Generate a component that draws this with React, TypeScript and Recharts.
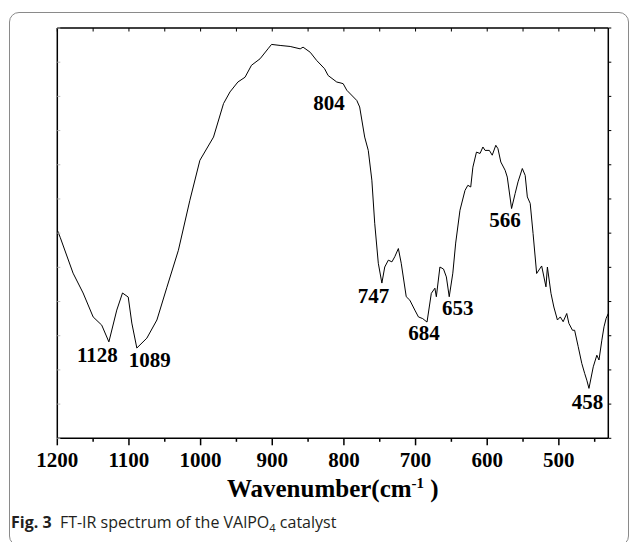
import React from 'react';
import { LineChart, Line, XAxis, YAxis, ReferenceDot } from 'recharts';

// Wavenumber (cm-1) samples
const wavenumbers = [
  1200, 1196, 1178, 1164, 1150, 1138, 1128, 1117, 1109, 1101, 1096, 1089, 1075, 1061, 1047, 1031,
  1015, 1001, 982, 968, 959, 948, 938, 929, 917, 906, 901, 889, 875, 861, 857, 847, 838, 827, 822,
  810, 804, 801, 796, 782, 778, 771, 766, 761, 757, 752, 747, 743, 738, 733, 729, 724, 720, 713,
  708, 701, 696, 690, 684, 678, 673, 671, 666, 661, 657, 653, 648, 644, 638, 631, 627, 623, 620,
  615, 610, 606, 603, 597, 593, 588, 585, 581, 575, 572, 566, 561, 557, 551, 547, 544, 540, 536,
  531, 524, 518, 516, 511, 507, 502, 498, 494, 489, 486, 481, 478, 473, 468, 464, 461, 458, 452,
  447, 444, 440, 437, 434, 431,
];

// Transmittance (arbitrary units)
const transmittance = [
  60.9, 58.8, 48.3, 42.5, 35.5, 33.1, 28.2, 37.5, 42.5, 41.3, 33.7, 26.4, 29.3, 34.6, 44.2, 55.0,
  69.6, 81.3, 88.1, 97.9, 101.3, 104.2, 105.6, 109.1, 111.0, 113.9, 115.2, 114.9, 114.6, 113.9, 114.4, 112.9, 110.5, 108.1, 106.1,
  104.2, 103.9, 103.7, 101.8, 98.8, 96.9, 88.1, 84.2, 75.5, 62.9, 51.2, 45.4, 50.1, 52.1, 51.6, 53.1, 55.5, 51.2, 41.4,
  40.4, 37.5, 35.5, 35.0, 34.0, 42.4, 43.9, 41.4, 50.1, 49.5, 47.2, 41.4, 48.3, 57.1, 66.7, 72.5, 74.0, 73.5, 79.3,
  83.7, 83.3, 85.2, 84.2, 84.2, 82.8, 85.7, 84.7, 80.8, 78.4, 76.4, 67.2, 71.6, 75.0, 78.9, 76.9, 70.6, 68.7, 59.9,
  48.2, 50.4, 44.3, 50.1, 42.4, 38.4, 34.6, 35.5, 34.1, 36.5, 33.6, 31.6, 31.6, 26.8, 21.9, 19.0, 17.0, 14.6, 20.9,
  24.3, 22.9, 28.7, 32.6, 35.1, 36.5,
];

const xTicks = [1200, 1150, 1100, 1050, 1000, 950, 900, 850, 800, 750, 700, 650, 600, 550, 500, 450];
const yTicks = [0, 10, 20, 30, 40, 50, 60, 70, 80, 90, 100, 110, 120];

const peakWavenumbers = [1128, 1089, 804, 747, 684, 653, 566, 458];
const peakLabels = ['1128', '1089', '804', '747', '684', '653', '566', '458'];

// label placement offsets (layout only), pixels relative to the peak point
const peakOffsets: [number, number][] = [
  [-11.5, 13], [13, 11.5], [-12, 19.5], [-8.5, 13], [-3, 10.5], [8.5, 11], [-6.5, 11], [-1.5, 14],
];

const data = wavenumbers.map((x, i) => ({ x, t: transmittance[i] }));

const SERIF = '"Liberation Serif", "Times New Roman", Times, serif';

const BottomTick = (props: any) => {
  const { x, y, payload } = props;
  const v = payload.value as number;
  const major = v % 100 === 0;
  return (
    <g>
      <line x1={x} x2={x} y1={y} y2={y + (major ? 7 : 3.5)} stroke="#000" strokeWidth={1.5} />
      {major && (
        <text
          x={x}
          y={y + 22}
          textAnchor="middle"
          dominantBaseline="central"
          fontFamily={SERIF}
          fontWeight="bold"
          fontSize={21}
          fill="#000"
        >
          {v}
        </text>
      )}
    </g>
  );
};

const TopTick = (props: any) => {
  const { x, y } = props;
  return <line x1={x} x2={x} y1={y} y2={y + 3.5} stroke="#000" strokeWidth={1} />;
};

const LeftTick = (props: any) => {
  const { x, y } = props;
  return <line x1={x} x2={x + 3} y1={y} y2={y} stroke="#b5b5b5" strokeWidth={1} />;
};

const RightTick = (props: any) => {
  const { x, y } = props;
  return <line x1={x} x2={x + 3} y1={y} y2={y} stroke="#000" strokeWidth={1} />;
};

export default function App() {
  return (
    <div
      style={{
        position: 'absolute',
        left: 0,
        top: 0,
        width: 629,
        height: 542,
        background: '#fff',
        overflow: 'hidden',
      }}
    >
      <div
        style={{
          position: 'absolute',
          left: 9,
          top: 12,
          width: 620,
          height: 534,
          border: '1px solid #8a8a8a',
          borderRadius: 10,
          boxSizing: 'border-box',
        }}
      />
      <div style={{ position: 'absolute', left: 0, top: 0 }}>
        <LineChart
          width={629}
          height={542}
          data={data}
          margin={{ top: 27, right: 19.7, bottom: 102.7, left: 56.3 }}
        >
          <XAxis
            xAxisId="bottom"
            dataKey="x"
            type="number"
            domain={[431, 1200]}
            reversed
            allowDataOverflow
            ticks={xTicks}
            interval={0}
            height={1}
            tickSize={0}
            tickMargin={0}
            tick={<BottomTick />}
            tickLine={false}
            axisLine={{ stroke: '#000', strokeWidth: 1.5 }}
          />
          <XAxis
            xAxisId="top"
            orientation="top"
            dataKey="x"
            type="number"
            domain={[431, 1200]}
            reversed
            allowDataOverflow
            ticks={xTicks}
            interval={0}
            height={1}
            tickSize={0}
            tickMargin={0}
            tick={<TopTick />}
            tickLine={false}
            axisLine={{ stroke: '#000', strokeWidth: 1.5 }}
          />
          <YAxis
            yAxisId="left"
            type="number"
            domain={[0, 120]}
            allowDataOverflow
            ticks={yTicks}
            interval={0}
            width={1}
            tickSize={0}
            tickMargin={0}
            tick={<LeftTick />}
            tickLine={false}
            axisLine={{ stroke: '#000', strokeWidth: 1.5 }}
          />
          <YAxis
            yAxisId="right"
            orientation="right"
            type="number"
            domain={[0, 120]}
            allowDataOverflow
            ticks={yTicks}
            interval={0}
            width={1}
            tickSize={0}
            tickMargin={0}
            tick={<RightTick />}
            tickLine={false}
            axisLine={{ stroke: '#000', strokeWidth: 1.5 }}
          />
          <Line
            xAxisId="bottom"
            yAxisId="left"
            type="linear"
            dataKey="t"
            stroke="#000"
            strokeWidth={1}
            dot={false}
            activeDot={false}
            isAnimationActive={false}
          />
          {peakWavenumbers.map((p, i) => {
            const pt = data.find((d) => d.x === p);
            const [dx, dy] = peakOffsets[i];
            return (
              <ReferenceDot
                key={p}
                xAxisId="bottom"
                yAxisId="left"
                x={p}
                y={pt ? pt.t : 0}
                ifOverflow="visible"
                shape={(sp: any) => (
                  <text
                    x={sp.cx + dx}
                    y={sp.cy + dy}
                    textAnchor="middle"
                    dominantBaseline="central"
                    fontFamily={SERIF}
                    fontWeight="bold"
                    fontSize={21}
                    fill="#000"
                  >
                    {peakLabels[i]}
                  </text>
                )}
              />
            );
          })}
        </LineChart>
      </div>
      <div
        style={{
          position: 'absolute',
          left: 57.3,
          width: 551,
          top: 476,
          textAlign: 'center',
          fontFamily: SERIF,
          fontWeight: 'bold',
          fontSize: 25,
          lineHeight: '25px',
          color: '#000',
          whiteSpace: 'nowrap',
        }}
      >
        Wavenumber(cm
        <span style={{ fontSize: '0.6em', position: 'relative', top: '-0.6em' }}>-1</span> )
      </div>
      <div
        style={{
          position: 'absolute',
          left: 11,
          top: 511,
          fontFamily: '"Open Sans", "Noto Sans", sans-serif',
          fontSize: 16,
          lineHeight: '22px',
          color: '#231f20',
          whiteSpace: 'nowrap',
        }}
      >
        <span style={{ fontWeight: 'bold' }}>Fig. 3</span>
        {'\u00a0\u00a0'}FT-IR spectrum of the VAlPO
        <span style={{ fontSize: '0.7em', position: 'relative', top: '0.35em' }}>4</span> catalyst
      </div>
    </div>
  );
}
